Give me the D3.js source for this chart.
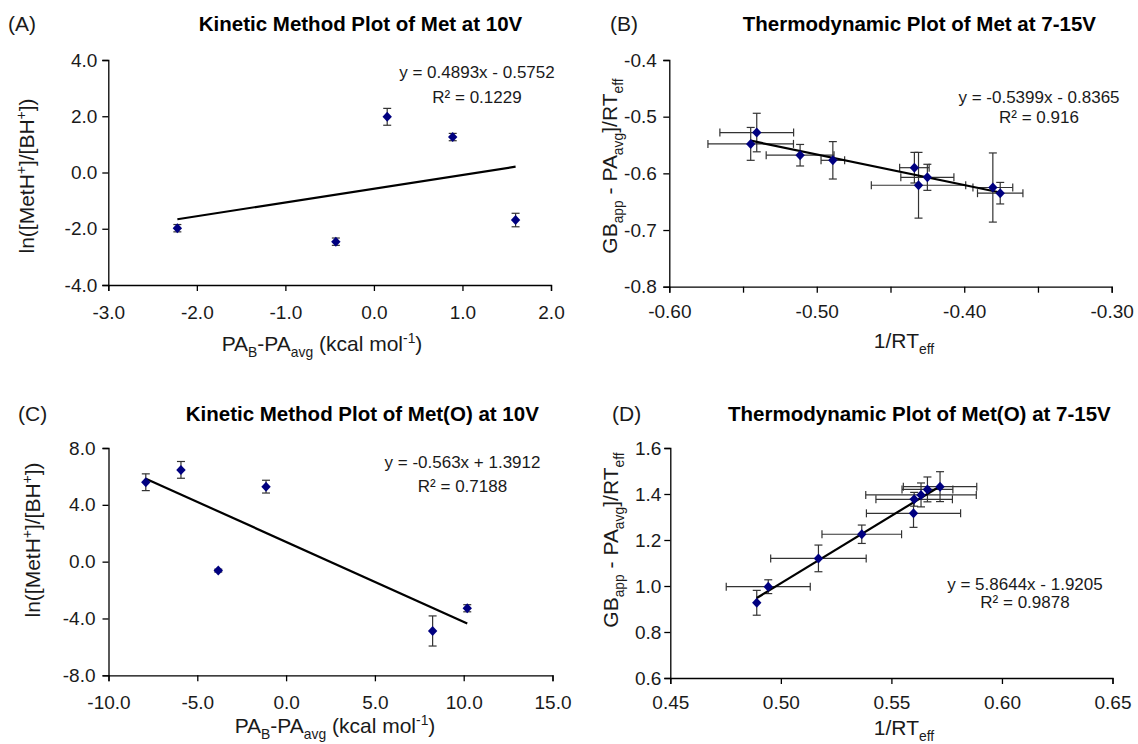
<!DOCTYPE html>
<html><head><meta charset="utf-8">
<script src="https://cdn.jsdelivr.net/npm/d3@7"></script>
<style>
html,body{margin:0;padding:0;background:#fff;}
svg text{font-family:Arial,"Liberation Sans",sans-serif;}
</style></head><body>
<svg id="chart" width="1138" height="744"></svg>
<script>
// ---------------- DATA ----------------
// Panel A
const titleA = "Kinetic Method Plot of Met at 10V";
const tagA = "(A)";
const xA = [-2.22, -0.43, 0.15, 0.89, 1.60];
const yA = [-1.98, -2.46, 1.98, 1.26, -1.69];
const yErrA = [0.13, 0.13, 0.30, 0.13, 0.24];
const xErrA = [0, 0, 0, 0, 0];
const fitA = [0.4893, -0.5752];
const eqA = ["y = 0.4893x - 0.5752", "R² = 0.1229"];
const xTicksA = [-3, -2, -1, 0, 1, 2];
const xTickLabelsA = ["-3.0", "-2.0", "-1.0", "0.0", "1.0", "2.0"];
const yTicksA = [-4, -2, 0, 2, 4];
const yTickLabelsA = ["-4.0", "-2.0", "0.0", "2.0", "4.0"];

// Panel B
const titleB = "Thermodynamic Plot of Met at 7-15V";
const tagB = "(B)";
const xB = [-0.5407, -0.5448, -0.5113, -0.4891, -0.4338, -0.4250, -0.4310, -0.3806, -0.3756];
const yB = [-0.528, -0.548, -0.568, -0.577, -0.590, -0.607, -0.621, -0.625, -0.635];
const yErrB = [0.034, 0.029, 0.019, 0.033, 0.027, 0.023, 0.058, 0.061, 0.019];
const xErrB = [0.025, 0.029, 0.023, 0.008, 0.010, 0.018, 0.032, 0.0135, 0.0154];
const fitB = [-0.5399, -0.8365];
const eqB = ["y = -0.5399x - 0.8365", "R² = 0.916"];
const xTicksB = [-0.60, -0.55, -0.50, -0.45, -0.40, -0.35, -0.30];
const xTickLabelsB = ["-0.60", "", "-0.50", "", "-0.40", "", "-0.30"];
const yTicksB = [-0.8, -0.7, -0.6, -0.5, -0.4];
const yTickLabelsB = ["-0.8", "-0.7", "-0.6", "-0.5", "-0.4"];

// Panel C
const titleC = "Kinetic Method Plot of Met(O) at 10V";
const tagC = "(C)";
const xC = [-7.90, -5.92, -3.82, -1.13, 8.25, 10.20];
const yC = [5.59, 6.46, -0.63, 5.28, -4.88, -3.28];
const yErrC = [0.59, 0.59, 0.10, 0.45, 1.06, 0.25];
const xErrC = [0, 0, 0, 0, 0, 0];
const fitC = [-0.563, 1.3912];
const eqC = ["y = -0.563x + 1.3912", "R² = 0.7188"];
const xTicksC = [-10, -5, 0, 5, 10, 15];
const xTickLabelsC = ["-10.0", "-5.0", "0.0", "5.0", "10.0", "15.0"];
const yTicksC = [-8, -4, 0, 4, 8];
const yTickLabelsC = ["-8.0", "-4.0", "0.0", "4.0", "8.0"];

// Panel D
const titleD = "Thermodynamic Plot of Met(O) at 7-15V";
const tagD = "(D)";
const xD = [0.4891, 0.4943, 0.5170, 0.5366, 0.5600, 0.5603, 0.5634, 0.5663, 0.5720];
const yD = [0.927, 0.997, 1.120, 1.225, 1.316, 1.377, 1.396, 1.420, 1.432];
const yErrD = [0.054, 0.030, 0.058, 0.040, 0.061, 0.030, 0.052, 0.054, 0.065];
const xErrD = [0, 0.019, 0.0216, 0.018, 0.0213, 0.0173, 0.025, 0.0115, 0.0166];
const fitD = [5.8644, -1.9205];
const eqD = ["y = 5.8644x - 1.9205", "R² = 0.9878"];
const xTicksD = [0.45, 0.50, 0.55, 0.60, 0.65];
const xTickLabelsD = ["0.45", "0.50", "0.55", "0.60", "0.65"];
const yTicksD = [0.6, 0.8, 1.0, 1.2, 1.4, 1.6];
const yTickLabelsD = ["0.6", "0.8", "1.0", "1.2", "1.4", "1.6"];

// Axis titles (text pieces; sub/sup flags)
const kineticXTitle = [{t:"PA"},{t:"B",sub:true},{t:"-PA"},{t:"avg",sub:true},{t:" (kcal mol"},{t:"-1",sup:true},{t:")"}];
const kineticYTitle = [{t:"ln([MetH"},{t:"+",sup:true},{t:"]/[BH"},{t:"+",sup:true},{t:"])"}];
const thermoXTitle = [{t:"1/RT"},{t:"eff",sub:true}];
const thermoYTitle = [{t:"GB"},{t:"app",sub:true},{t:" - PA"},{t:"avg",sub:true},{t:"]/RT"},{t:"eff",sub:true}];

// ---------------- DRAWING ----------------
const svg = d3.select("#chart");
const INK = "#1a1a1a";
const MARK = "#000080";

function rich(textSel, parts, size) {
  let shift = 0;
  parts.forEach(p => {
    const target = p.sub ? size * 0.28 : (p.sup ? -size * 0.40 : 0);
    const ts = textSel.append("tspan").text(p.t).attr("dy", target - shift);
    if (p.sub || p.sup) ts.attr("font-size", size * 0.66);
    shift = target;
  });
}

function drawPanel(c) {
  const g = svg.append("g");
  const x = d3.scaleLinear().domain(c.xDomain).range([c.left, c.right]);
  const y = d3.scaleLinear().domain(c.yDomain).range([c.bottom, c.top]);

  const xa = g.append("g").attr("transform", `translate(0,${c.bottom})`)
    .call(d3.axisBottom(x).tickValues(c.xTicks).tickFormat((d, i) => c.xLabels[i])
      .tickSizeOuter(0).tickSize(6).tickPadding(c.xPad));
  const ya = g.append("g").attr("transform", `translate(${c.left},0)`)
    .call(d3.axisLeft(y).tickValues(c.yTicks).tickFormat((d, i) => c.yLabels[i])
      .tickSizeOuter(0).tickSize(6).tickPadding(c.yPad));
  [xa, ya].forEach(a => {
    a.attr("font-size", 19).attr("font-family", "Arial, 'Liberation Sans', sans-serif").attr("color", INK);
    a.selectAll("path,line").attr("stroke", "#000").attr("stroke-width", 1.3);
  });

  // error bars
  const eb = g.append("g").attr("stroke", "#333").attr("stroke-width", 1.2).attr("fill", "none");
  c.xs.forEach((xv, i) => {
    const yv = c.ys[i], ye = c.yErr[i], xe = c.xErr[i];
    const px = x(xv), py = y(yv);
    if (ye > 0) {
      const y1 = y(yv - ye), y2 = y(yv + ye);
      eb.append("line").attr("x1", px).attr("x2", px).attr("y1", y1).attr("y2", y2);
      eb.append("line").attr("x1", px - 4).attr("x2", px + 4).attr("y1", y1).attr("y2", y1);
      eb.append("line").attr("x1", px - 4).attr("x2", px + 4).attr("y1", y2).attr("y2", y2);
    }
    if (xe > 0) {
      const x1 = x(xv - xe), x2 = x(xv + xe);
      eb.append("line").attr("x1", x1).attr("x2", x2).attr("y1", py).attr("y2", py);
      eb.append("line").attr("x1", x1).attr("x2", x1).attr("y1", py - 4).attr("y2", py + 4);
      eb.append("line").attr("x1", x2).attr("x2", x2).attr("y1", py - 4).attr("y2", py + 4);
    }
  });

  // trend line
  const ext = d3.extent(c.xs);
  const fitPts = ext.map(v => [v, c.fit[0] * v + c.fit[1]]);
  g.append("path").datum(fitPts)
    .attr("d", d3.line().x(d => x(d[0])).y(d => y(d[1])))
    .attr("stroke", "#000").attr("stroke-width", 2.2).attr("fill", "none");

  // markers
  g.append("g").selectAll("path").data(c.xs.map((v, i) => [v, c.ys[i]])).join("path")
    .attr("d", "M0,-5L4.7,0L0,5L-4.7,0Z")
    .attr("transform", d => `translate(${x(d[0])},${y(d[1])})`)
    .attr("fill", MARK);

  // title + tag
  g.append("text").attr("x", c.titleX).attr("y", c.titleY).attr("text-anchor", "middle")
    .attr("font-size", 20.5).attr("font-weight", "bold").attr("fill", "#000").text(c.title);
  g.append("text").attr("x", c.tagX).attr("y", c.titleY).attr("font-size", 21)
    .attr("fill", INK).text(c.tag);

  // equation
  c.eq.forEach((s, i) => {
    g.append("text").attr("x", c.eqX).attr("y", c.eqY[i]).attr("text-anchor", "middle")
      .attr("font-size", 17).attr("fill", INK).text(s);
  });

  // axis titles
  const xt = g.append("text").attr("x", c.xtX).attr("y", c.xtY).attr("text-anchor", "middle")
    .attr("font-size", 21).attr("fill", INK);
  rich(xt, c.xTitle, 21);
  const yt = g.append("text").attr("transform", `translate(${c.ytX},${c.ytY}) rotate(-90)`)
    .attr("text-anchor", "middle").attr("font-size", 21).attr("fill", INK);
  rich(yt, c.yTitle, 21);
}

drawPanel({
  left: 108.3, right: 551, top: 60, bottom: 285,
  xDomain: [-3, 2], yDomain: [-4, 4],
  xTicks: xTicksA, xLabels: xTickLabelsA, yTicks: yTicksA, yLabels: yTickLabelsA,
  xPad: 15, yPad: 5,
  xs: xA, ys: yA, yErr: yErrA, xErr: xErrA, fit: fitA,
  title: titleA, tag: tagA, titleX: 360.5, titleY: 31, tagX: 8,
  eq: eqA, eqX: 477, eqY: [78, 103],
  xTitle: kineticXTitle, xtX: 322, xtY: 351,
  yTitle: kineticYTitle, ytX: 34, ytY: 176
});
drawPanel({
  left: 669.3, right: 1111.7, top: 60, bottom: 286.7,
  xDomain: [-0.6, -0.3], yDomain: [-0.8, -0.4],
  xTicks: xTicksB, xLabels: xTickLabelsB, yTicks: yTicksB, yLabels: yTickLabelsB,
  xPad: 12, yPad: 6.5,
  xs: xB, ys: yB, yErr: yErrB, xErr: xErrB, fit: fitB,
  title: titleB, tag: tagB, titleX: 919.4, titleY: 31, tagX: 610,
  eq: eqB, eqX: 1039, eqY: [102.7, 122.7],
  xTitle: thermoXTitle, xtX: 904, xtY: 348,
  yTitle: thermoYTitle, ytX: 617, ytY: 166
});
drawPanel({
  left: 108.5, right: 552.5, top: 448, bottom: 675.3,
  xDomain: [-10, 15], yDomain: [-8, 8],
  xTicks: xTicksC, xLabels: xTickLabelsC, yTicks: yTicksC, yLabels: yTickLabelsC,
  xPad: 14, yPad: 7,
  xs: xC, ys: yC, yErr: yErrC, xErr: xErrC, fit: fitC,
  title: titleC, tag: tagC, titleX: 362.3, titleY: 421, tagX: 18,
  eq: eqC, eqX: 462.5, eqY: [468, 492],
  xTitle: kineticXTitle, xtX: 335, xtY: 733,
  yTitle: kineticYTitle, ytX: 40, ytY: 540
});
drawPanel({
  left: 670.3, right: 1112.5, top: 448, bottom: 678,
  xDomain: [0.45, 0.65], yDomain: [0.6, 1.6],
  xTicks: xTicksD, xLabels: xTickLabelsD, yTicks: yTicksD, yLabels: yTickLabelsD,
  xPad: 11.5, yPad: 3,
  xs: xD, ys: yD, yErr: yErrD, xErr: xErrD, fit: fitD,
  title: titleD, tag: tagD, titleX: 919.4, titleY: 421, tagX: 612,
  eq: eqD, eqX: 1025, eqY: [589.7, 608],
  xTitle: thermoXTitle, xtX: 904, xtY: 735,
  yTitle: thermoYTitle, ytX: 618, ytY: 540
});
</script>
</body></html>
